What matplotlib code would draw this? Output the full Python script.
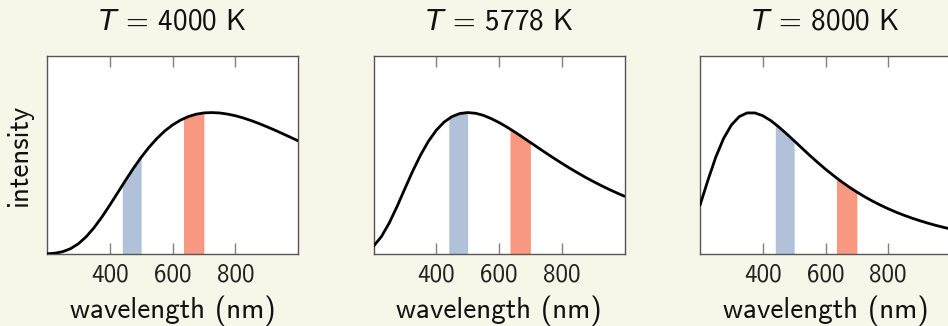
import numpy as np
import matplotlib
matplotlib.use("Agg")
import matplotlib.pyplot as plt

# ---- data ----
wavelength = [200, 225, 250, 275, 300, 325, 350, 375, 400, 425, 450, 475, 500,
              525, 550, 575, 600, 625, 650, 675, 700, 725, 750, 775, 800, 825,
              850, 875, 900, 925, 950, 975, 1000]

intensity_4000 = [0.0014, 0.0056, 0.0164, 0.0377, 0.0725, 0.1222, 0.1862, 0.2616,
                  0.3450, 0.4323, 0.5198, 0.6045, 0.6834, 0.7540, 0.8161, 0.8693,
                  0.9121, 0.9459, 0.9714, 0.9884, 0.9975, 1.0000, 0.9973, 0.9893,
                  0.9779, 0.9623, 0.9439, 0.9232, 0.9005, 0.8769, 0.8519, 0.8264,
                  0.8005]

intensity_5778 = [0.0553, 0.1223, 0.2185, 0.3354, 0.4620, 0.5862, 0.6996, 0.7968,
                  0.8749, 0.9329, 0.9714, 0.9931, 1.0000, 0.9951, 0.9805, 0.9575,
                  0.9298, 0.8978, 0.8631, 0.8263, 0.7885, 0.7511, 0.7136, 0.6773,
                  0.6416, 0.6075, 0.5746, 0.5429, 0.5131, 0.4848, 0.4578, 0.4323,
                  0.4082]

intensity_8000 = [0.3450, 0.5198, 0.6834, 0.8161, 0.9121, 0.9714, 0.9975, 0.9973,
                  0.9779, 0.9439, 0.9005, 0.8519, 0.8005, 0.7484, 0.6968, 0.6473,
                  0.5997, 0.5554, 0.5131, 0.4742, 0.4380, 0.4046, 0.3739, 0.3457,
                  0.3198, 0.2959, 0.2742, 0.2541, 0.2358, 0.2189, 0.2034, 0.1892,
                  0.1762]

temperatures = ["4000", "5778", "8000"]
blue_band = [440, 500]
red_band = [635, 700]
x_ticks = [400, 600, 800]
x_tick_labels = ["400", "600", "800"]

# ---- style ----
plt.rcParams['font.family'] = ['cmss10', 'DejaVu Sans']
plt.rcParams['mathtext.fontset'] = 'custom'
plt.rcParams['mathtext.rm'] = 'cmss10'
plt.rcParams['mathtext.it'] = 'DejaVu Sans:italic'
plt.rcParams['axes.unicode_minus'] = False

BG = '#f7f7e9'
BLUE = '#b0c1d9'
RED = '#f99880'

fig = plt.figure(figsize=(9.48, 3.26), dpi=100, facecolor=BG)
W, H = 948.0, 326.0
lefts = [47, 373.5, 700]
ax_w, ax_top, ax_bot = 251, 56, 254
ax_h = ax_bot - ax_top

series = [intensity_4000, intensity_5778, intensity_8000]
lam = np.array(wavelength, dtype=float)

for i, (left, I, T) in enumerate(zip(lefts, series, temperatures)):
    ax = fig.add_axes([left / W, (H - ax_bot) / H, ax_w / W, ax_h / H])
    ax.set_facecolor('white')
    I = np.array(I)
    for band, col in ((blue_band, BLUE), (red_band, RED)):
        xs = np.linspace(band[0], band[1], 60)
        ys = np.interp(xs, lam, I)
        ax.fill_between(xs, 0, ys, color=col, linewidth=0, zorder=1)
    ax.plot(lam, I, color='black', linewidth=2.0, zorder=3, solid_capstyle='round')
    ax.set_xlim(200, 1000)
    ax.set_ylim(0, 1.4)
    ax.set_xticks(x_ticks)
    ax.set_xticklabels(x_tick_labels)
    ax.set_yticks([])
    ax.tick_params(axis='x', direction='in', length=8, width=1.0, color='#808080',
                   top=True, bottom=True, labelsize=18, pad=7, labelcolor='#222222')
    for s in ax.spines.values():
        s.set_color('#555555')
        s.set_linewidth(1.0)
    ax.set_title(r'$T$ = ' + T + ' K', fontsize=21, pad=19, color='#111111')
    ax.set_xlabel('wavelength (nm)', fontsize=21, color='#111111')
    ax.xaxis.label.set_va('baseline')
    ax.xaxis.set_label_coords(0.5, -(318.5 - ax_bot) / ax_h)
    if i == 0:
        ax.set_ylabel('intensity', fontsize=21, labelpad=10, color='#111111')

fig.savefig('out.png', dpi=100, facecolor=BG)
